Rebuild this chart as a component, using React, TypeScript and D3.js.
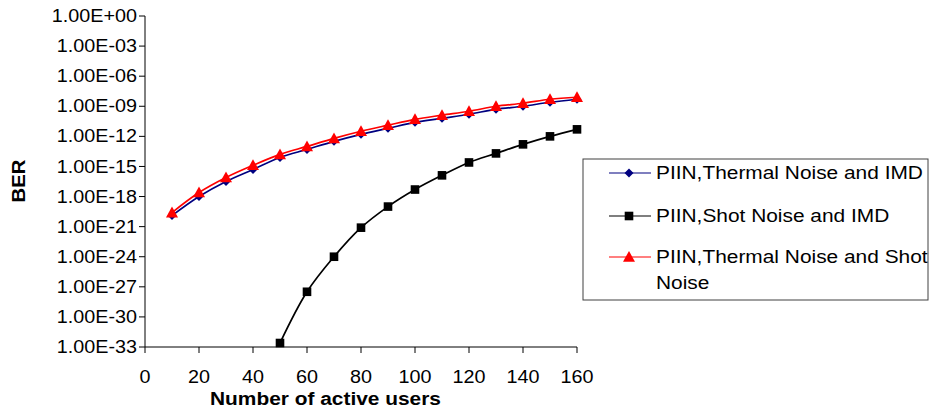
import React from "react";
import * as d3 from "d3";

const users = [10, 20, 30, 40, 50, 60, 70, 80, 90, 100, 110, 120, 130, 140, 150, 160];
const thermalImd = [1.26e-20, 1.0e-18, 3.2e-17, 5.0e-16, 7.9e-15, 5.0e-14, 3.2e-13, 1.6e-12, 6.3e-12, 2.5e-11, 6.3e-11, 1.6e-10, 5.0e-10, 1.0e-9, 2.5e-9, 5.0e-9];
const shotUsers = [50, 60, 70, 80, 90, 100, 110, 120, 130, 140, 150, 160];
const shotImd = [2.5e-33, 3.2e-28, 1.0e-24, 7.9e-22, 1.0e-19, 5.0e-18, 1.3e-16, 2.5e-15, 2.0e-14, 1.6e-13, 1.0e-12, 5.0e-12];
const thermalShot = [2.5e-20, 2.5e-18, 7.9e-17, 1.3e-15, 1.6e-14, 1.0e-13, 6.3e-13, 3.2e-12, 1.3e-11, 5.0e-11, 1.3e-10, 3.2e-10, 1.0e-9, 2.0e-9, 5.0e-9, 7.9e-9];

const xTicks = [0, 20, 40, 60, 80, 100, 120, 140, 160];
const yTicks = [1e0, 1e-3, 1e-6, 1e-9, 1e-12, 1e-15, 1e-18, 1e-21, 1e-24, 1e-27, 1e-30, 1e-33];
const yTickLabels = ["1.00E+00", "1.00E-03", "1.00E-06", "1.00E-09", "1.00E-12", "1.00E-15", "1.00E-18", "1.00E-21", "1.00E-24", "1.00E-27", "1.00E-30", "1.00E-33"];
const legendLabels = ["PIIN,Thermal Noise and IMD", "PIIN,Shot Noise and IMD", "PIIN,Thermal Noise and Shot", "Noise"];

const FONT = "'Liberation Sans', Arial, sans-serif";
const SX = 1.13;

function Txt({ x, y, rot = 0, size, anchor = "start", bold = false, dy = "0", children }: any) {
  return (
    <text
      transform={`translate(${x},${y}) rotate(${rot}) scale(${SX},1)`}
      dy={dy}
      textAnchor={anchor}
      fontFamily={FONT}
      fontSize={size}
      fontWeight={bold ? "bold" : "normal"}
      fill="#000"
    >
      {children}
    </text>
  );
}

function Marker({ kind, x, y, color }: { kind: string; x: number; y: number; color: string }) {
  if (kind === "diamond") {
    const s = 4.5;
    return <path d={`M${x},${y - s}L${x + s},${y}L${x},${y + s}L${x - s},${y}Z`} fill={color} />;
  }
  if (kind === "square") {
    const s = 4.3;
    return <rect x={x - s} y={y - s} width={2 * s} height={2 * s} fill={color} />;
  }
  const s = 6;
  return <path d={`M${x},${y - s}L${x + s},${y + s * 0.8}L${x - s},${y + s * 0.8}Z`} fill={color} />;
}

export default function App() {
  const x = d3.scaleLinear().domain([0, 160]).range([145, 577]);
  const y = d3.scaleLog().domain([1e-33, 1]).range([347, 16]);
  const line = d3
    .line<[number, number]>()
    .x((d) => x(d[0]))
    .y((d) => y(d[1]))
    .curve(d3.curveCatmullRom.alpha(0.5));

  const series = [
    { xs: users, ys: thermalImd, color: "#000080", kind: "diamond" },
    { xs: shotUsers, ys: shotImd, color: "#000000", kind: "square" },
    { xs: users, ys: thermalShot, color: "#ff0000", kind: "triangle" },
  ];

  const legendRows = [173, 216, 257];

  return (
    <svg width={929} height={410} style={{ position: "absolute", left: 0, top: 0, background: "#fff" }}>
      <rect x={0} y={0} width={929} height={410} fill="#fff" />
      <line x1={145} x2={145} y1={y(1)} y2={y(1e-33)} stroke="#000" strokeWidth={1} />
      <line x1={145} x2={577} y1={347} y2={347} stroke="#000" strokeWidth={1} />
      {yTicks.map((t, i) => (
        <g key={i}>
          <line x1={139} x2={145} y1={y(t)} y2={y(t)} stroke="#000" />
          <Txt x={137} y={y(t)} dy="0.35em" anchor="end" size={17.5}>
            {yTickLabels[i]}
          </Txt>
        </g>
      ))}
      {xTicks.map((t) => (
        <g key={t}>
          <line x1={x(t)} x2={x(t)} y1={347} y2={353} stroke="#000" />
          <Txt x={x(t)} y={383} anchor="middle" size={17.5}>
            {t}
          </Txt>
        </g>
      ))}
      <Txt x={25} y={181} rot={-90} anchor="middle" size={18} bold>
        BER
      </Txt>
      <Txt x={210} y={405} size={18.5} bold>
        Number of active users
      </Txt>
      {series.map((s, i) => {
        const pts: [number, number][] = s.xs.map((v, j) => [v, s.ys[j]]);
        return (
          <g key={i}>
            <path d={line(pts) || ""} fill="none" stroke={s.color} strokeWidth={1.7} />
            {pts.map((p, j) => (
              <Marker key={j} kind={s.kind} x={x(p[0])} y={y(p[1])} color={s.color} />
            ))}
          </g>
        );
      })}
      <rect x={583} y={159} width={345} height={141} fill="#fff" stroke="#404040" strokeWidth={1} />
      {series.map((s, i) => (
        <g key={i}>
          <line x1={609} x2={651} y1={legendRows[i]} y2={legendRows[i]} stroke={s.color} strokeWidth={1.2} />
          <Marker kind={s.kind} x={629} y={legendRows[i]} color={s.color} />
        </g>
      ))}
      {legendLabels.map((l, i) => (
        <Txt key={i} x={656} y={i < 3 ? legendRows[i] : 283} dy="0.35em" size={18.5}>
          {l}
        </Txt>
      ))}
    </svg>
  );
}
